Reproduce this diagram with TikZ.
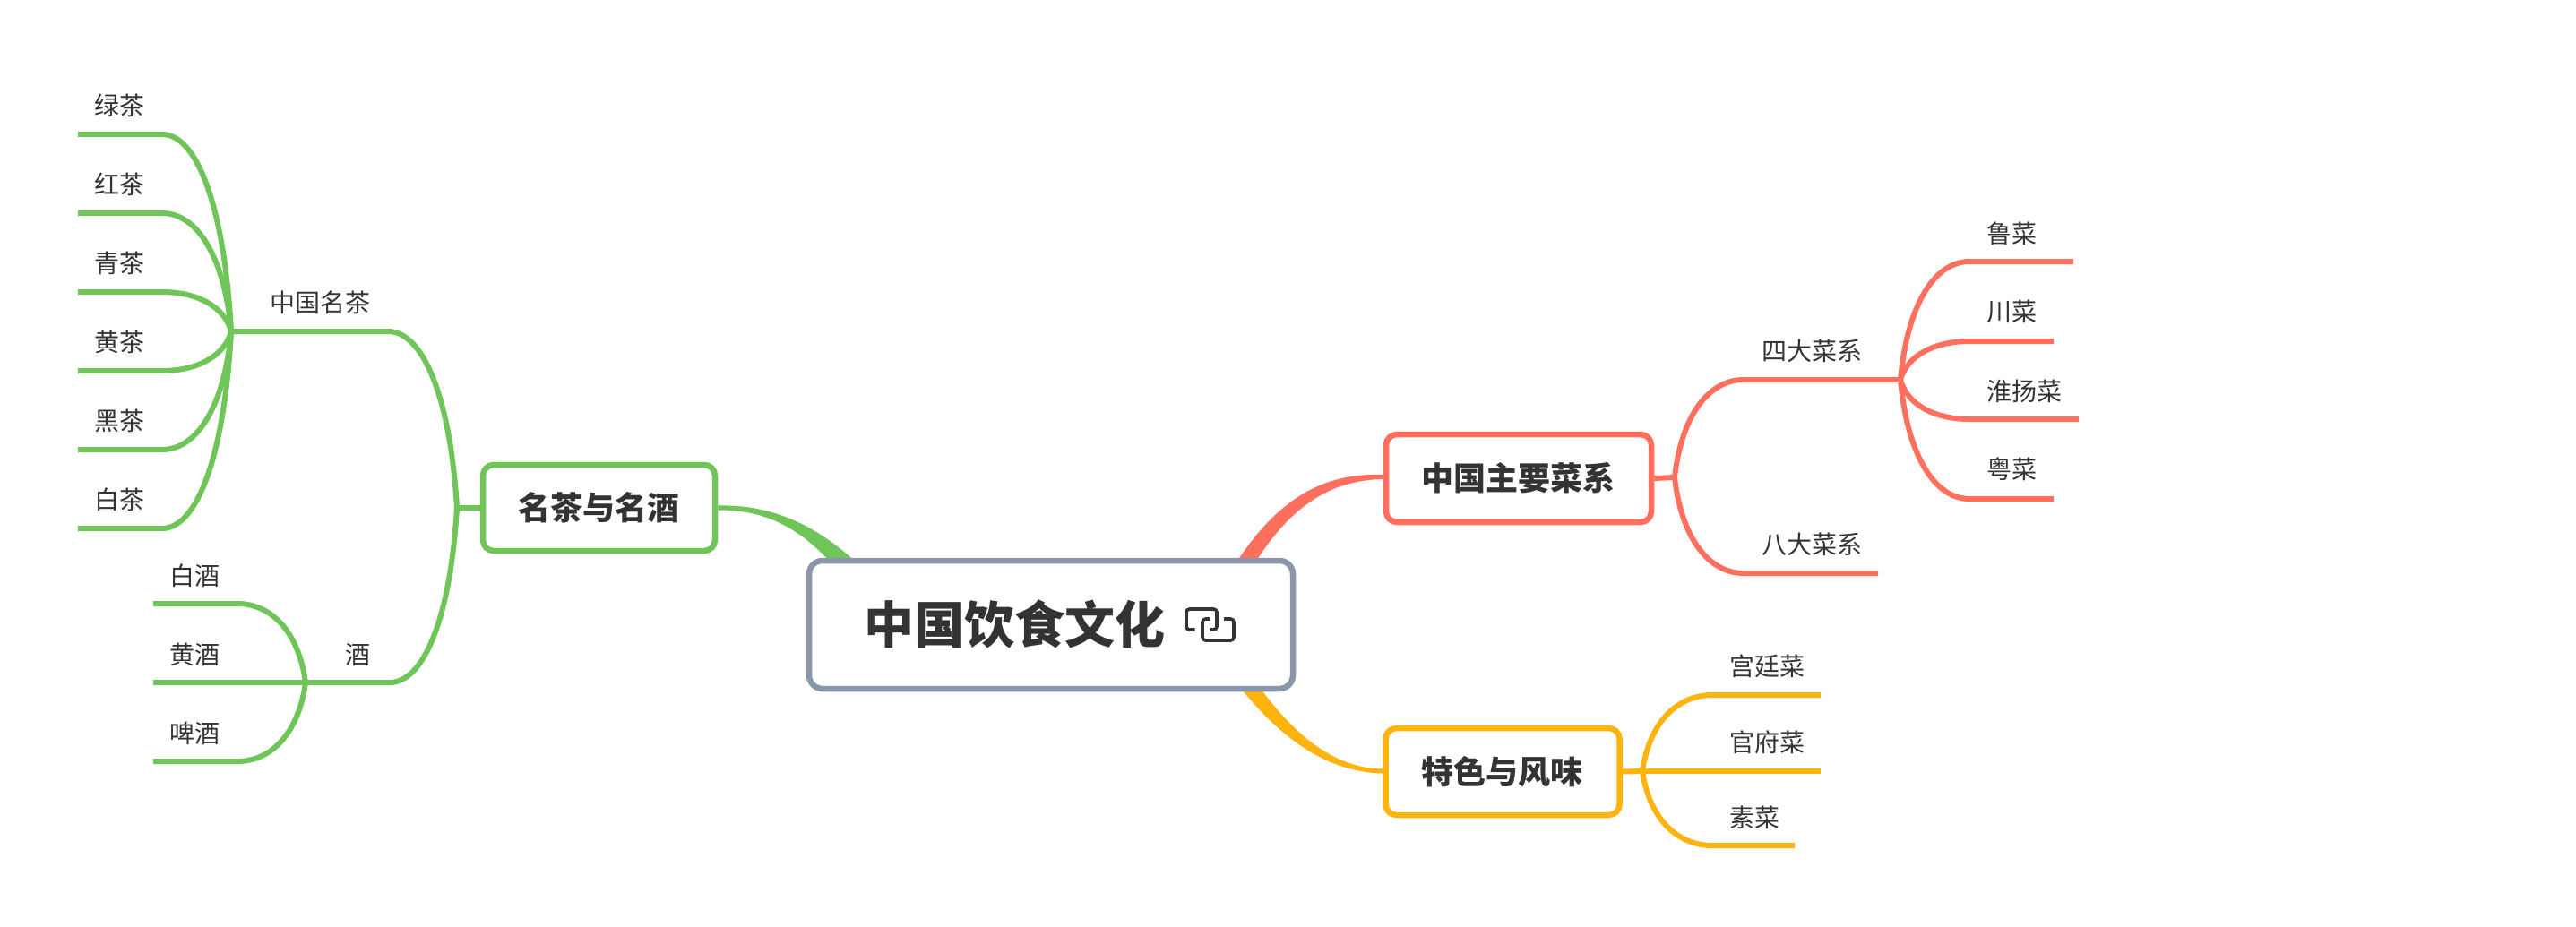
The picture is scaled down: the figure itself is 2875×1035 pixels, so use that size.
\documentclass[tikz,border=0pt]{standalone}
\usepackage{fontspec}
\setmainfont{Noto Sans CJK SC}
\usetikzlibrary{calc,backgrounds}
\definecolor{cgreen}{HTML}{70C558}
\definecolor{cred}{HTML}{FF6F5E}
\definecolor{cyellow}{HTML}{FFB30F}
\definecolor{cgray}{HTML}{8A96AA}
\definecolor{ctext}{HTML}{333333}
\tikzset{
  x=1pt,y=-1pt,
  lbl/.style={inner sep=0pt,anchor=west,text=ctext,font=\fontsize{28}{28}\selectfont,text height=24.6pt,text depth=3.4pt},
  mainbox/.style={draw=#1,line width=6.5pt,rounded corners=12pt,fill=white,inner sep=0pt,text=ctext,
    font=\bfseries\fontsize{36}{36}\selectfont,text height=31.7pt,text depth=4.3pt},
  wire/.style={draw=#1,line width=6pt,line join=round},
  branch/.style={to path={let \p1=(\tikztostart),\p2=(\tikztotarget),\n1={\x2-\x1},\n2={\y2-\y1} in
    .. controls ({\x1+0.1*\n1},{\y1+0.64*\n2}) and ({\x2-0.5*\n1},\y2) .. (\tikztotarget) \tikztonodes}},
  iconline/.style={draw=ctext,line width=3.6pt,rounded corners=3.5pt},
}
\begin{document}
\begin{tikzpicture}
\useasboundingbox (0,0) rectangle (2875,1035);
% main boxes
\node[mainbox=cgray,rounded corners=15pt,font=\bfseries\fontsize{56}{56}\selectfont,text height=49.3pt,text depth=6.7pt,minimum width=540pt,minimum height=143pt] (root) at (1173,697.5) {中国饮食文化\rule{82pt}{0pt}};
\node[mainbox=cgreen,minimum width=259pt,minimum height=96pt] (g) at (668.5,567) {\hspace*{-1pt}名茶与名酒};
\node[mainbox=cred,minimum width=296pt,minimum height=98pt] (r) at (1695,534) {\hspace*{-1pt}中国主要菜系};
\node[mainbox=cyellow,minimum width=261pt,minimum height=97pt] (y) at (1677,861.5) {\hspace*{-2pt}特色与风味};
% junctions and branch ends
\coordinate (gj) at (510,567);
\coordinate (rj) at (1869,533);
\coordinate (yj) at (1833,861);
\coordinate (tea) at (258,370);
\coordinate (teaB) at (433,370);
\coordinate (wine) at (341,762);
\coordinate (wineB) at (435,762);
\coordinate (four) at (2121,424);
\coordinate (fourB) at (1946,424);
\coordinate (eightB) at (1946,640);
\coordinate (eightE) at (2096,640);
% labels
\node[lbl] (n1) at (105,118) {绿茶};
\node[lbl] (n2) at (105,206) {红茶};
\node[lbl] (n3) at (105,294) {青茶};
\node[lbl] (n4) at (105,382) {黄茶};
\node[lbl] (n5) at (105,470) {黑茶};
\node[lbl] (n6) at (105,558) {白茶};
\node[lbl] (n7) at (301,338) {中国名茶};
\node[lbl] (n8) at (385,731) {酒};
\node[lbl] (n9) at (189,643) {白酒};
\node[lbl] (n10) at (189,731) {黄酒};
\node[lbl] (n11) at (189,819) {啤酒};
\node[lbl] (n12) at (1966,392) {四大菜系};
\node[lbl] (n13) at (1966,608) {八大菜系};
\node[lbl] (n14) at (2217,261) {鲁菜};
\node[lbl] (n15) at (2217,348) {川菜};
\node[lbl] (n16) at (2217,437) {淮扬菜};
\node[lbl] (n17) at (2217,524) {粤菜};
\node[lbl] (n18) at (1930,744) {宫廷菜};
\node[lbl] (n19) at (1930,829) {官府菜};
\node[lbl] (n20) at (1930,913) {素菜};
% leaf underline ends
\coordinate (a1) at (181,150);\coordinate (a1e) at (87,150);
\coordinate (a2) at (181,238);\coordinate (a2e) at (87,238);
\coordinate (a3) at (181,326);\coordinate (a3e) at (87,326);
\coordinate (a4) at (181,414);\coordinate (a4e) at (87,414);
\coordinate (a5) at (181,502);\coordinate (a5e) at (87,502);
\coordinate (a6) at (181,590);\coordinate (a6e) at (87,590);
\coordinate (b1) at (265,674);\coordinate (b1e) at (171,674);
\coordinate (b2) at (265,762);\coordinate (b2e) at (171,762);
\coordinate (b3) at (265,850);\coordinate (b3e) at (171,850);
\coordinate (c1) at (2198,292);\coordinate (c1e) at (2314,292);
\coordinate (c2) at (2198,381);\coordinate (c2e) at (2292,381);
\coordinate (c3) at (2198,468);\coordinate (c3e) at (2320,468);
\coordinate (c4) at (2198,557);\coordinate (c4e) at (2292,557);
\coordinate (d1) at (1911,776);\coordinate (d1e) at (2032,776);
\coordinate (d2) at (1911,861);\coordinate (d2e) at (2032,861);
\coordinate (d3) at (1911,944);\coordinate (d3e) at (2003,944);
% connectors
\path[wire=cgreen] (g.west) -- (gj);
\path[wire=cgreen] (gj) to[branch] (teaB) -- (tea);
\path[wire=cgreen] (gj) to[branch] (wineB) -- (wine);
\foreach \k in {1,...,6} {\path[wire=cgreen] (tea) to[branch] (a\k) -- (a\k e);}
\foreach \k in {1,2,3} {\path[wire=cgreen] (wine) to[branch] (b\k) -- (b\k e);}
\path[wire=cred] (r.east) -- (rj);
\path[wire=cred] (rj) to[branch] (fourB) -- (four);
\path[wire=cred] (rj) to[branch] (eightB) -- (eightE);
\foreach \k in {1,...,4} {\path[wire=cred] (four) to[branch] (c\k) -- (c\k e);}
\path[wire=cyellow] (y.east) -- (yj);
\foreach \k in {1,2,3} {\path[wire=cyellow] (yj) to[branch] (d\k) -- (d\k e);}
% tapered links to the root, under the boxes
\begin{scope}[on background layer]
\fill[cgreen] ($(g.east)+(0,-2.5)$) .. controls (860,563) and (916,585) .. (973,645)
   -- (949,655) .. controls (904,594) and (860,569) .. ($(g.east)+(0,2.5)$) -- cycle;
\fill[cred] ($(r.west)+(0,-4)$) .. controls (1476,528) and (1417,555) .. (1358,665)
   -- (1380,665) .. controls (1431,565) and (1484,536) .. ($(r.west)+(0,1)$) -- cycle;
\fill[cyellow] ($(y.west)+(0,-3)$) .. controls (1484,858) and (1433,813) .. (1384,735)
   -- (1360,735) .. controls (1417,818) and (1476,862) .. ($(y.west)+(0,2)$) -- cycle;
\end{scope}
% link icon
\draw[iconline] (1333.5,703) -- (1324,703) -- (1324,680) -- (1358,680) -- (1358,703) -- (1350,703);
\draw[iconline] (1366,691) -- (1377,691) -- (1377,715) -- (1342,715) -- (1342,691) -- (1350,691);
\end{tikzpicture}
\end{document}
